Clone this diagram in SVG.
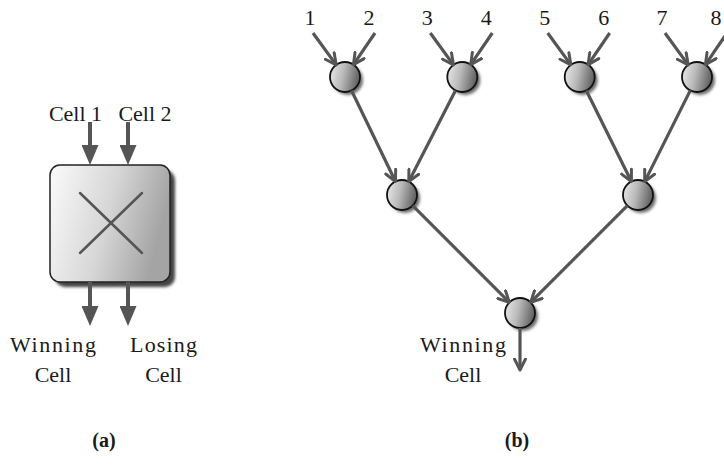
<svg xmlns="http://www.w3.org/2000/svg" width="724" height="465" viewBox="0 0 724 465">
<style>
  text { font-family: "Liberation Serif", "Times New Roman", serif; fill: #1a1a1a; }
  .lbl { font-size: 22px; text-anchor: middle; }
  .num { font-size: 22px; text-anchor: middle; }
  .cap { font-size: 20px; font-weight: bold; text-anchor: middle; }
  .edge { stroke: #555; stroke-width: 3.2; fill: none; marker-end: url(#vhead); }
  .fat { stroke: #555; stroke-width: 4; fill: none; marker-end: url(#tri); }
  .ball { fill: url(#ballGrad); stroke: #111; stroke-width: 1.8; }
  .shade { fill: #3a3a3a; filter: url(#soft); opacity: 0.75; }
</style>
<defs>
  <linearGradient id="ballGrad" x1="0" y1="0" x2="1" y2="0.2">
    <stop offset="0" stop-color="#ececec"/>
    <stop offset="0.5" stop-color="#b9b9b9"/>
    <stop offset="1" stop-color="#666"/>
  </linearGradient>
  <linearGradient id="boxGrad" x1="0" y1="0" x2="1" y2="0.25">
    <stop offset="0" stop-color="#fbfbfb"/>
    <stop offset="0.55" stop-color="#d6d6d6"/>
    <stop offset="1" stop-color="#a4a4a4"/>
  </linearGradient>
  <filter id="soft" x="-30%" y="-30%" width="160%" height="160%">
    <feGaussianBlur stdDeviation="1.6"/>
  </filter>
  <marker id="vhead" viewBox="0 0 14 14" refX="12.5" refY="7" markerWidth="14" markerHeight="14" markerUnits="userSpaceOnUse" orient="auto">
    <path d="M1.5,1.5 L12.5,7 L1.5,12.5" fill="none" stroke="#555" stroke-width="3" stroke-linejoin="round" stroke-linecap="round"/>
  </marker>
  <marker id="tri" viewBox="0 0 20 17" refX="1" refY="8.5" markerWidth="20" markerHeight="17" markerUnits="userSpaceOnUse" orient="auto">
    <path d="M0,0 L20,8.5 L0,17 Z" fill="#555"/>
  </marker>
</defs>

<rect width="724" height="465" fill="#fff"/>

<!-- Panel (a) -->
<g id="switch-box">
  <rect x="55" y="170" width="120" height="117" rx="10" fill="#444" filter="url(#soft)"/>
  <rect x="50" y="165" width="120" height="117" rx="10" fill="url(#boxGrad)" stroke="#222" stroke-width="1.5"/>
  <line x1="80" y1="193" x2="142" y2="253" stroke="#555" stroke-width="2.5" stroke-linecap="round"/>
  <line x1="142" y1="193" x2="80" y2="253" stroke="#555" stroke-width="2.5" stroke-linecap="round"/>
</g>
<g id="labels-a">
  <text class="lbl" x="75.5" y="121">Cell 1</text>
  <text class="lbl" x="145" y="121">Cell 2</text>
  <text class="lbl" x="53" y="352" textLength="86" lengthAdjust="spacing">Winning</text>
  <text class="lbl" x="53" y="382">Cell</text>
  <text class="lbl" x="163.5" y="352" textLength="67" lengthAdjust="spacing">Losing</text>
  <text class="lbl" x="163.5" y="382">Cell</text>
  <text class="cap" x="104" y="447">(a)</text>
</g>

<!-- Panel (b) nodes -->
<g id="leaf1"><circle class="shade" cx="348" cy="80" r="15"/><circle class="ball" cx="345" cy="77" r="15"/></g>
<g id="leaf2"><circle class="shade" cx="465.3" cy="80" r="15"/><circle class="ball" cx="462.3" cy="77" r="15"/></g>
<g id="leaf3"><circle class="shade" cx="582.7" cy="80" r="15"/><circle class="ball" cx="579.7" cy="77" r="15"/></g>
<g id="leaf4"><circle class="shade" cx="700" cy="80" r="15"/><circle class="ball" cx="697" cy="77" r="15"/></g>
<g id="mid-left"><circle class="shade" cx="405" cy="198" r="15"/><circle class="ball" cx="402" cy="195" r="15"/></g>
<g id="mid-right"><circle class="shade" cx="641" cy="198" r="15"/><circle class="ball" cx="638" cy="195" r="15"/></g>
<g id="root"><circle class="shade" cx="523" cy="316" r="15"/><circle class="ball" cx="520" cy="313" r="15"/></g>

<g id="labels-b">
  <text class="num" x="310" y="25">1</text>
  <text class="num" x="369" y="25">2</text>
  <text class="num" x="427.3" y="25">3</text>
  <text class="num" x="486.3" y="25">4</text>
  <text class="num" x="544.7" y="25">5</text>
  <text class="num" x="603.7" y="25">6</text>
  <text class="num" x="662" y="25">7</text>
  <text class="num" x="716" y="25">8</text>
  <text class="lbl" x="463" y="352" textLength="86" lengthAdjust="spacing">Winning</text>
  <text class="lbl" x="463" y="382">Cell</text>
  <text class="cap" x="517" y="447">(b)</text>
</g>

<!-- Connectors -->
<g id="connectors">
  <line class="fat" x1="90" y1="122" x2="90" y2="146"/>
  <line class="fat" x1="128" y1="122" x2="128" y2="146"/>
  <line class="fat" x1="90" y1="282" x2="90" y2="307"/>
  <line class="fat" x1="128" y1="282" x2="128" y2="307"/>

  <line class="edge" x1="313" y1="33" x2="336.2" y2="64.9"/>
  <line class="edge" x1="375" y1="33" x2="353.4" y2="64.6"/>
  <line class="edge" x1="430.3" y1="33" x2="453.5" y2="64.9"/>
  <line class="edge" x1="492.3" y1="33" x2="470.7" y2="64.6"/>
  <line class="edge" x1="547.7" y1="33" x2="570.9" y2="64.9"/>
  <line class="edge" x1="609.7" y1="33" x2="588.1" y2="64.6"/>
  <line class="edge" x1="665" y1="33" x2="688.2" y2="64.9"/>
  <line class="edge" x1="727" y1="33" x2="705.4" y2="64.6"/>

  <line class="edge" x1="351.5" y1="90.5" x2="395.5" y2="181.5"/>
  <line class="edge" x1="455.5" y1="90.4" x2="408.8" y2="181.6"/>
  <line class="edge" x1="586.3" y1="90.5" x2="631.4" y2="181.5"/>
  <line class="edge" x1="690.3" y1="90.4" x2="644.7" y2="181.6"/>

  <line class="edge" x1="412.7" y1="205.6" x2="509.4" y2="302.4"/>
  <line class="edge" x1="627.4" y1="205.6" x2="530.6" y2="302.4"/>

  <line class="edge" x1="520" y1="328" x2="520" y2="370"/>
</g>
</svg>
